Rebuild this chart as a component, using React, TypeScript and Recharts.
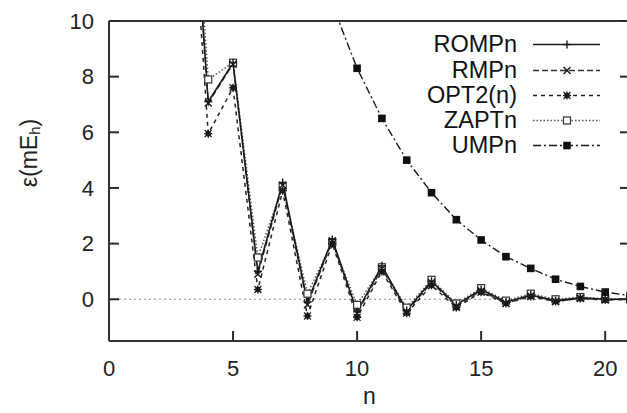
import React from 'react';
import { LineChart, Line, XAxis, YAxis, ReferenceLine } from 'recharts';

const FONT = "'Liberation Sans', Arial, Helvetica, sans-serif";

// n values
const nValues = [3, 4, 5, 6, 7, 8, 9, 10, 11, 12, 13, 14, 15, 16, 17, 18, 19, 20, 21];
const rompn = [20, 7.1, 8.5, 1.0, 4.2, -0.1, 2.15, -0.45, 1.2, -0.4, 0.65, -0.2, 0.35, -0.1, 0.15, -0.05, 0.05, 0.0, 0.0];
const rmpn = [20, 7.05, 8.45, 0.9, 4.1, -0.2, 2.1, -0.5, 1.1, -0.45, 0.6, -0.25, 0.3, -0.15, 0.12, -0.08, 0.04, -0.02, 0.0];
const opt2n = [19, 5.95, 7.6, 0.35, 3.9, -0.6, 2.0, -0.65, 1.0, -0.5, 0.5, -0.3, 0.25, -0.15, 0.1, -0.08, 0.03, -0.02, 0.0];
const zaptn = [21, 7.9, 8.5, 1.5, 4.05, 0.2, 2.05, -0.2, 1.15, -0.3, 0.7, -0.15, 0.4, -0.05, 0.2, 0.0, 0.08, 0.02, 0.0];
const umpn = [null, null, null, null, null, 13.6, 10.6, 8.3, 6.5, 5.0, 3.83, 2.86, 2.13, 1.53, 1.11, 0.72, 0.46, 0.26, 0.13];

const xTicks = [0, 5, 10, 15, 20];
const yTicks = [0, 2, 4, 6, 8, 10];
const xDomain = [0, 21];
const yDomain = [-1.5, 10];

const rows = nValues.map((n, i) => ({
  n,
  rompn: rompn[i],
  rmpn: rmpn[i],
  opt2n: opt2n[i],
  zaptn: zaptn[i],
  umpn: umpn[i],
}));

type MarkerType = 'plus' | 'cross' | 'star' | 'openSquare' | 'filledSquare';

function Marker({ type, cx, cy }: { type: MarkerType; cx: number; cy: number }) {
  const c = '#1a1a1a';
  if (type === 'plus') {
    return (
      <g>
        <line x1={cx - 4} y1={cy} x2={cx + 4} y2={cy} stroke={c} strokeWidth={1.4} />
        <line x1={cx} y1={cy - 4} x2={cx} y2={cy + 4} stroke={c} strokeWidth={1.4} />
      </g>
    );
  }
  if (type === 'cross') {
    return (
      <g>
        <line x1={cx - 3.5} y1={cy - 3.5} x2={cx + 3.5} y2={cy + 3.5} stroke={c} strokeWidth={1.4} />
        <line x1={cx - 3.5} y1={cy + 3.5} x2={cx + 3.5} y2={cy - 3.5} stroke={c} strokeWidth={1.4} />
      </g>
    );
  }
  if (type === 'star') {
    return (
      <g>
        <rect x={cx - 2.5} y={cy - 2.5} width={5} height={5} fill={c} />
        <line x1={cx - 4} y1={cy} x2={cx + 4} y2={cy} stroke={c} strokeWidth={1.4} />
        <line x1={cx} y1={cy - 4} x2={cx} y2={cy + 4} stroke={c} strokeWidth={1.4} />
        <line x1={cx - 3.5} y1={cy - 3.5} x2={cx + 3.5} y2={cy + 3.5} stroke={c} strokeWidth={1.2} />
        <line x1={cx - 3.5} y1={cy + 3.5} x2={cx + 3.5} y2={cy - 3.5} stroke={c} strokeWidth={1.2} />
      </g>
    );
  }
  if (type === 'openSquare') {
    return <rect x={cx - 3.5} y={cy - 3.5} width={7} height={7} fill="#fff" stroke="#333" strokeWidth={1.2} />;
  }
  return <rect x={cx - 3.8} y={cy - 3.8} width={7.6} height={7.6} fill="#111" />;
}

const makeDot = (type: MarkerType) => (props: any) => {
  const { cx, cy, index, value } = props;
  if (cx == null || cy == null || value == null || Number.isNaN(cy)) {
    return <g key={`e-${type}-${index}`} />;
  }
  return (
    <g key={`d-${type}-${index}`}>
      <Marker type={type} cx={cx} cy={cy} />
    </g>
  );
};

const series: {
  key: string;
  name: string;
  marker: MarkerType;
  stroke: string;
  width: number;
  dash?: string;
}[] = [
  { key: 'zaptn', name: 'ZAPTn', marker: 'openSquare', stroke: '#555', width: 1.5, dash: '1.5 2' },
  { key: 'opt2n', name: 'OPT2(n)', marker: 'star', stroke: '#222', width: 1.5, dash: '4 4' },
  { key: 'rmpn', name: 'RMPn', marker: 'cross', stroke: '#333', width: 1.3, dash: '6 3' },
  { key: 'rompn', name: 'ROMPn', marker: 'plus', stroke: '#1a1a1a', width: 1.6 },
  { key: 'umpn', name: 'UMPn', marker: 'filledSquare', stroke: '#1a1a1a', width: 1.4, dash: '8 3 2 3' },
];

const legendOrder = ['rompn', 'rmpn', 'opt2n', 'zaptn', 'umpn'];

function LegendBox() {
  return (
    <div style={{ position: 'absolute', left: 380, top: 32.4, fontFamily: FONT }}>
      {legendOrder.map((k) => {
        const s = series.find((x) => x.key === k)!;
        return (
          <div key={k} style={{ display: 'flex', alignItems: 'center', height: 25.2 }}>
            <span
              style={{
                width: 137,
                textAlign: 'right',
                fontSize: 23.5,
                lineHeight: '25px',
                color: '#111',
                whiteSpace: 'nowrap',
              }}
            >
              {s.name}
            </span>
            <svg width={100} height={25} style={{ display: 'block' }}>
              <line
                x1={16}
                y1={12.5}
                x2={83}
                y2={12.5}
                stroke={s.stroke}
                strokeWidth={s.width}
                strokeDasharray={s.dash}
              />
              <Marker type={s.marker} cx={50} cy={12.5} />
            </svg>
          </div>
        );
      })}
    </div>
  );
}

const axisStroke = { stroke: '#333', strokeWidth: 2 };
const tickLineStyle = { stroke: '#2a2a2a', strokeWidth: 2 };
const tickText = { fill: '#222', fontSize: 22, fontFamily: FONT };
const noLabel = () => '';

export default function App() {
  return (
    <div
      style={{
        position: 'fixed',
        left: 0,
        top: 0,
        width: 627,
        height: 413,
        overflow: 'hidden',
        background: '#fff',
      }}
    >
      <LineChart width={640} height={413} data={rows} margin={{ top: 21, right: 10, bottom: 0, left: 0 }}>
        {/* bottom axis with labels */}
        <XAxis
          dataKey="n"
          type="number"
          domain={xDomain}
          ticks={xTicks}
          allowDataOverflow
          height={72}
          tickSize={0}
          tickMargin={19}
          axisLine={axisStroke}
          tickLine={false}
          tick={tickText}
          label={{
            content: (p: any) => {
              const vb = p.viewBox || {};
              return (
                <text
                  x={vb.x + vb.width / 2}
                  y={vb.y + 63}
                  textAnchor="middle"
                  fontSize={23}
                  fontFamily={FONT}
                  fill="#222"
                >
                  n
                </text>
              );
            },
          }}
        />
        {/* inward tick marks on the bottom axis */}
        <XAxis
          xAxisId="xm"
          dataKey="n"
          type="number"
          domain={xDomain}
          ticks={xTicks}
          allowDataOverflow
          mirror
          tickSize={10}
          axisLine={false}
          tickLine={tickLineStyle}
          tickFormatter={noLabel}
        />
        {/* left axis with labels */}
        <YAxis
          yAxisId="l"
          type="number"
          domain={yDomain}
          ticks={yTicks}
          allowDataOverflow
          width={109}
          tickSize={0}
          tickMargin={15}
          axisLine={axisStroke}
          tickLine={false}
          tick={tickText}
          label={{
            content: (p: any) => {
              const vb = p.viewBox || {};
              const cx = vb.x + 29;
              const cy = vb.y + 132;
              return (
                <text
                  x={cx}
                  y={cy}
                  transform={`rotate(-90, ${cx}, ${cy})`}
                  textAnchor="middle"
                  dominantBaseline="central"
                  fontSize={23}
                  fontFamily={FONT}
                  fill="#222"
                >
                  ε(mE
                  <tspan fontSize={15} dy={5}>
                    h
                  </tspan>
                  <tspan dy={-5}>)</tspan>
                </text>
              );
            },
          }}
        />
        {/* inward tick marks on the left axis */}
        <YAxis
          yAxisId="lm"
          type="number"
          domain={yDomain}
          ticks={yTicks}
          allowDataOverflow
          mirror
          tickSize={10}
          axisLine={false}
          tickLine={tickLineStyle}
          tickFormatter={noLabel}
        />
        {/* right border with inward tick marks */}
        <YAxis
          yAxisId="rm"
          orientation="right"
          type="number"
          domain={yDomain}
          ticks={yTicks}
          allowDataOverflow
          mirror
          tickSize={10}
          axisLine={axisStroke}
          tickLine={tickLineStyle}
          tickFormatter={noLabel}
        />
        <ReferenceLine yAxisId="l" y={0} stroke="#888" strokeWidth={1.2} strokeDasharray="2 3" />
        <ReferenceLine yAxisId="l" y={10} stroke="#333" strokeWidth={2} />
        {series.map((s) => (
          <Line
            key={s.key}
            yAxisId="l"
            type="linear"
            dataKey={s.key}
            stroke={s.stroke}
            strokeWidth={s.width}
            strokeDasharray={s.dash}
            dot={makeDot(s.marker)}
            activeDot={false}
            isAnimationActive={false}
            connectNulls={false}
          />
        ))}
      </LineChart>
      <LegendBox />
    </div>
  );
}
